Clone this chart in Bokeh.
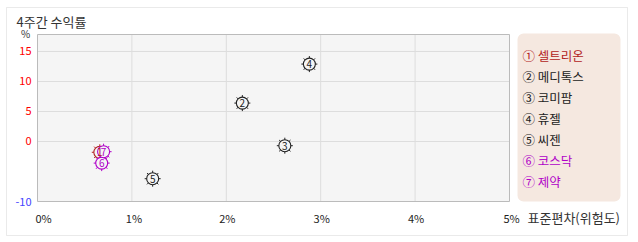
from bokeh.plotting import figure
from bokeh.models import ColumnDataSource, Label, BoxAnnotation, Range1d
from bokeh.embed import file_html
from bokeh.resources import INLINE
from bokeh.core.properties import value

# ---- data ----
names = ["셀트리온", "메디톡스", "코미팜", "휴젤", "씨젠", "코스닥", "제약"]
marks = ["①", "②", "③", "④", "⑤", "⑥", "⑦"]
digits = ["1", "2", "3", "4", "5", "6", "7"]
risk = [0.66, 2.17, 2.62, 2.88, 1.22, 0.68, 0.70]      # 표준편차 (%)
ret = [-1.8, 6.4, -0.7, 12.9, -6.2, -3.6, -1.7]         # 4주간 수익률 (%)
colors = ["#b22222", "#222222", "#222222", "#222222", "#222222", "#b000c8", "#b000c8"]
x_ticks = [0, 1, 2, 3, 4, 5]
x_tick_labels = ["0%", "1%", "2%", "3%", "4%", "5%"]
y_ticks = [15, 10, 5, 0, -10]
y_tick_labels = ["15", "10", "5", "0", "-10"]
y_tick_colors = ["#ff0000", "#ff0000", "#ff0000", "#ff0000", "#4444ff"]
y_grid = [0, 5, 10, 15]
x_min, x_max = 0, 5
y_min, y_max = -10, 17.83
title_text = "4주간 수익률"
x_title = "표준편차(위험도)"

FONT = "Noto Sans CJK KR"

# the frame is the whole canvas; the plot area [0,5]x[-10,17.83] sits at
# canvas x 37..509, y 34..201
W, H = 638, 242
px_x = (509 - 37) / (x_max - x_min)
px_y = (201 - 34) / (y_max - y_min)
xr = Range1d(x_min - 37 / px_x, x_max + (W - 509) / px_x)
yr = Range1d(y_min - (H - 201) / px_y, y_min + 201 / px_y)

p = figure(width=W, height=H, output_backend="svg", toolbar_location=None,
           x_range=xr, y_range=yr, x_axis_type=None, y_axis_type=None,
           min_border=0, min_border_left=0, min_border_right=0,
           min_border_top=0, min_border_bottom=0)
p.background_fill_color = "white"
p.border_fill_color = "white"
p.outline_line_color = None

# outer border (screen units, y from bottom)
p.add_layout(BoxAnnotation(left=6, right=627, bottom=7, top=235,
                           left_units="screen", right_units="screen",
                           bottom_units="screen", top_units="screen",
                           fill_color=None, fill_alpha=0, line_color="#bbbbbb",
                           line_width=1, level="underlay"))

# plot area background
p.quad(left=[x_min], right=[x_max], bottom=[y_min], top=[y_max],
       fill_color="#f5f5f5", line_color=None)
# grid
p.segment(x0=x_ticks[1:-1], x1=x_ticks[1:-1], y0=[y_min] * 4, y1=[y_max] * 4,
          line_color="#dddddd", line_width=1)
p.segment(x0=[x_min] * len(y_grid), x1=[x_max] * len(y_grid), y0=y_grid, y1=y_grid,
          line_color="#dddddd", line_width=1)
# frame border
p.quad(left=[x_min], right=[x_max], bottom=[y_min], top=[y_max],
       fill_color=None, line_color="#bbbbbb", line_width=1)

# tick labels
p.text(x=x_ticks, y=[y_min] * len(x_ticks), text=x_tick_labels,
       x_offset=[6, 2, 1, 1, 1, 2], y_offset=[16] * len(x_ticks),
       text_align="center", text_baseline="middle", text_color="#222222",
       text_font=value(FONT), text_font_size="11px")
p.text(x=[x_min] * len(y_ticks), y=y_ticks, text=y_tick_labels,
       x_offset=[-6] * len(y_ticks), text_color=y_tick_colors,
       text_align="right", text_baseline="middle",
       text_font=value(FONT), text_font_size="11px")

# title, unit, x title
p.add_layout(Label(x=16, y=221, x_units="screen", y_units="screen", text=title_text,
                   text_baseline="middle", text_font=FONT, text_font_size="13px",
                   text_color="#333333"))
p.add_layout(Label(x=25, y=209, x_units="screen", y_units="screen", text="%",
                   text_align="center", text_baseline="middle", text_font=FONT,
                   text_font_size="10px", text_color="#333333"))
p.add_layout(Label(x=527, y=25, x_units="screen", y_units="screen", text=x_title,
                   text_baseline="middle", text_font=FONT, text_font_size="13px",
                   text_color="#333333"))

# points
src = ColumnDataSource(dict(x=risk, y=ret, c=colors, d=digits))
p.scatter("x", "y", source=src, marker="asterisk", size=16, line_color="c", line_width=1)
p.scatter("x", "y", source=src, marker="circle", size=12, fill_color="#f5f5f5",
          fill_alpha=1.0, line_color="c", line_width=1.1)
p.text("x", "y", text="d", source=src, text_color="c", text_align="center",
       text_baseline="middle", text_font=value(FONT), text_font_size="10px")

# legend box
p.add_layout(BoxAnnotation(left=517, right=620, bottom=41, top=209,
                           left_units="screen", right_units="screen",
                           bottom_units="screen", top_units="screen",
                           fill_color="#f5e8e0", fill_alpha=1.0, line_color=None,
                           border_radius=6))
for i, (m, n, c) in enumerate(zip(marks, names, colors)):
    p.add_layout(Label(x=522, y=187 - 21 * i, x_units="screen", y_units="screen",
                       text=m + " " + n, text_baseline="middle", text_font=FONT,
                       text_font_size="12.5px", text_color=c))

open("out.html", "w").write(file_html(p, INLINE))
